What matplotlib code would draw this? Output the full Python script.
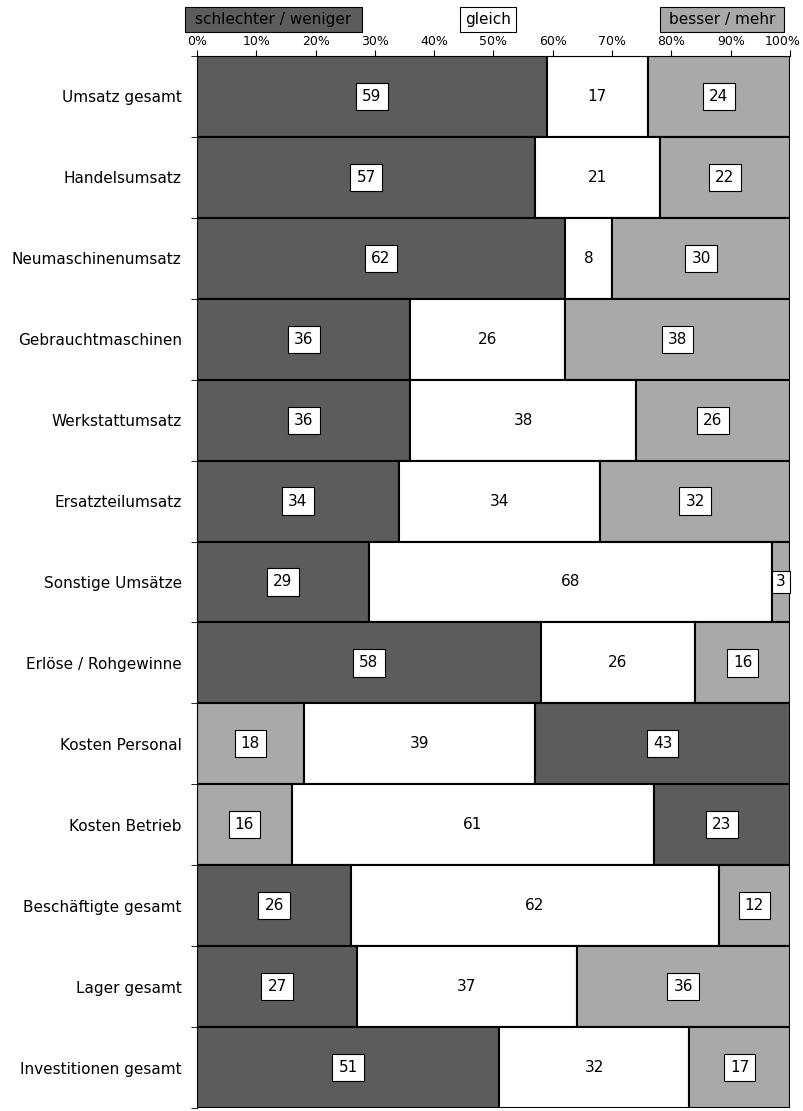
import matplotlib.pyplot as plt
from matplotlib.patches import Rectangle
from matplotlib.transforms import ScaledTranslation
import numpy as np

categories = ['Umsatz gesamt', 'Handelsumsatz', 'Neumaschinenumsatz', 'Gebrauchtmaschinen',
              'Werkstattumsatz', 'Ersatzteilumsatz', 'Sonstige Umsätze', 'Erlöse / Rohgewinne',
              'Kosten Personal', 'Kosten Betrieb', 'Beschäftigte gesamt', 'Lager gesamt',
              'Investitionen gesamt']
left_vals = [59, 57, 62, 36, 36, 34, 29, 58, 18, 16, 26, 27, 51]
mid_vals = [17, 21, 8, 26, 38, 34, 68, 26, 39, 61, 62, 37, 32]
right_vals = [24, 22, 30, 38, 26, 32, 3, 16, 43, 23, 12, 36, 17]
# rows where the left part means "besser" (costs: weniger is good)
reversed_rows = ['Kosten Personal', 'Kosten Betrieb']
legend_labels = ['schlechter / weniger', 'gleich', 'besser / mehr']

dark = '#5c5c5c'
light = '#a9a9a9'
W, H = 804, 1111

fig = plt.figure(figsize=(W / 100, H / 100), dpi=100)
ax = fig.add_axes([197 / W, 1 - 1108 / H, 593 / W, (1108 - 56) / H])

y = np.arange(len(categories))
box = dict(boxstyle='square,pad=0.4', facecolor='white', edgecolor='black', linewidth=0.8)
for i, cat in enumerate(categories):
    rev = cat in reversed_rows
    lc = light if rev else dark
    rc = dark if rev else light
    l, m, r = left_vals[i], mid_vals[i], right_vals[i]
    ax.barh(i, l, height=1.0, color=lc, edgecolor='black', linewidth=1.5)
    ax.barh(i, m, left=l, height=1.0, color='white', edgecolor='black', linewidth=1.5)
    ax.barh(i, r, left=l + m, height=1.0, color=rc, edgecolor='black', linewidth=1.5)
    ax.text(l / 2, i, str(l), ha='center', va='center', fontsize=11, bbox=box)
    ax.text(l + m / 2, i, str(m), ha='center', va='center', fontsize=11)
    # narrow segments get a tighter box
    rbox = box if r >= 5 else dict(box, boxstyle='square,pad=0.25')
    ax.text(l + m + r / 2, i, str(r), ha='center', va='center', fontsize=11, bbox=rbox)

ax.set_xlim(0, 100)
ax.set_ylim(len(categories) - 0.5, -0.5)
ax.set_yticks(y)
ax.set_yticklabels(categories, fontsize=11)
ax.set_yticks(np.arange(-0.5, len(categories), 1), minor=True)
ax.tick_params(axis='y', which='major', length=0, pad=11)
ax.tick_params(axis='y', which='minor', length=4)
ax.xaxis.tick_top()
ax.set_xticks(np.arange(0, 101, 10))
ax.set_xticklabels([f'{t}%' for t in range(0, 101, 10)], fontsize=9)
ax.tick_params(axis='x', length=4, pad=2)
# keep "100%" inside the picture
last = ax.get_xticklabels()[-1]
last.set_transform(last.get_transform() + ScaledTranslation(-0.07, 0, fig.dpi_scale_trans))
for s in ['right', 'bottom']:
    ax.spines[s].set_visible(False)

# legend boxes on top (pixel positions from the reference)
legend_boxes = [(185, 362, dark), (460, 516, 'white'), (660, 784, light)]
for (x0, x1, c), lab in zip(legend_boxes, legend_labels):
    fig.patches.append(Rectangle((x0 / W, 1 - 32 / H), (x1 - x0) / W, 25 / H,
                                 transform=fig.transFigure, facecolor=c,
                                 edgecolor='black', linewidth=0.8))
    fig.text((x0 + x1) / 2 / W, 1 - 19.5 / H, lab, fontsize=11, ha='center', va='center')

fig.savefig('out.png', dpi=100)
